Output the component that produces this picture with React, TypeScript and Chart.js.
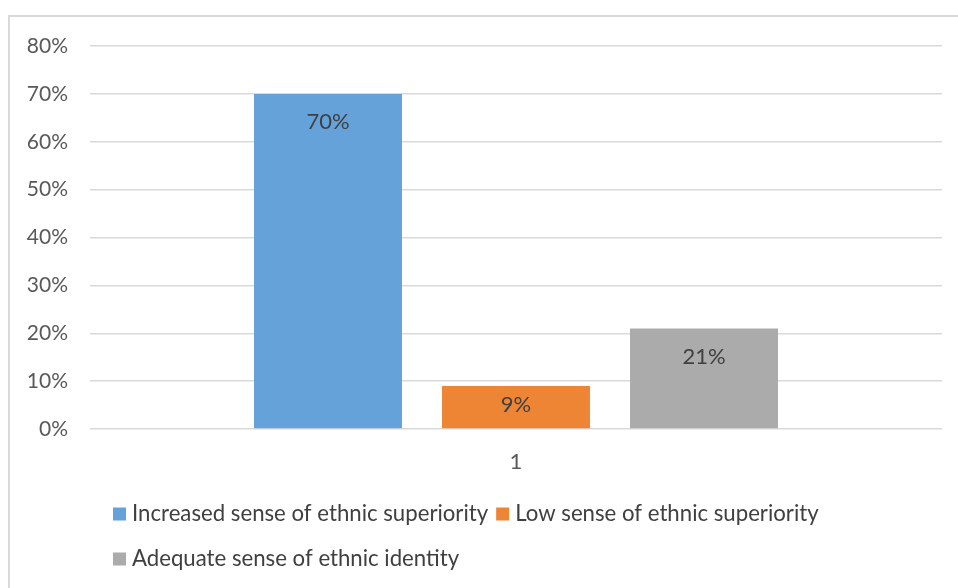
import React, { useEffect, useRef } from "react";
import { Chart, registerables } from "chart.js";

Chart.register(...registerables);

const categories = ["1"];
const seriesNames = [
  "Increased sense of ethnic superiority",
  "Low sense of ethnic superiority",
  "Adequate sense of ethnic identity",
];
const increasedValues = [70];
const lowValues = [9];
const adequateValues = [21];
const yMin = 0;
const yMax = 80;
const yStep = 10;
const seriesColors = ["#65a2d9", "#ee8535", "#ababab"];

const FONT = "Lato, 'Liberation Sans', sans-serif";
const TEXT = "#404040";
const TICK = "#595959";

const valueLabels = {
  id: "valueLabels",
  afterDatasetsDraw(chart: any) {
    const ctx = chart.ctx;
    ctx.save();
    ctx.font = `22px ${FONT}`;
    ctx.fillStyle = TEXT;
    ctx.textAlign = "center";
    ctx.textBaseline = "middle";
    chart.data.datasets.forEach((ds: any, i: number) => {
      const meta = chart.getDatasetMeta(i);
      meta.data.forEach((el: any, j: number) => {
        const top = el.y;
        const base = el.base;
        const y = Math.min(top + 28, (top + base) / 2 - 2);
        ctx.fillText(`${ds.data[j]}%`, el.x, y);
      });
    });
    ctx.restore();
  },
};

const bottomLegend = {
  id: "bottomLegend",
  afterDraw(chart: any) {
    const ctx = chart.ctx;
    const area = chart.chartArea;
    const x0 = area.left + 23;
    const rows = [[0, 1], [2]];
    const rowY = [area.bottom + 85, area.bottom + 130];
    ctx.save();
    ctx.font = `22.2px ${FONT}`;
    ctx.textBaseline = "middle";
    ctx.textAlign = "left";
    rows.forEach((row, r) => {
      let x = x0;
      row.forEach((i) => {
        const ds = chart.data.datasets[i];
        ctx.fillStyle = ds.backgroundColor;
        ctx.fillRect(x, rowY[r] - 6.5, 13, 13);
        x += 13 + 6;
        ctx.fillStyle = TEXT;
        ctx.fillText(ds.label, x, rowY[r]);
        x += ctx.measureText(ds.label).width + 8;
      });
    });
    ctx.restore();
  },
};

export default function App() {
  const ref = useRef<HTMLCanvasElement>(null);
  useEffect(() => {
    if (!ref.current) return;
    const chart = new Chart(ref.current, {
      type: "bar",
      data: {
        labels: categories,
        datasets: [
          { label: seriesNames[0], data: increasedValues, backgroundColor: seriesColors[0] },
          { label: seriesNames[1], data: lowValues, backgroundColor: seriesColors[1] },
          { label: seriesNames[2], data: adequateValues, backgroundColor: seriesColors[2] },
        ],
      },
      options: {
        animation: false,
        responsive: true,
        maintainAspectRatio: false,
        events: [],
        layout: { padding: { top: 29, right: 16, left: 0, bottom: 0 } },
        datasets: {
          bar: { categoryPercentage: 0.662, barPercentage: 0.787 },
        },
        plugins: {
          legend: { display: false },
          tooltip: { enabled: false },
        },
        scales: {
          x: {
            grid: { display: false },
            border: { display: false },
            ticks: { color: TICK, font: { family: FONT, size: 22 }, padding: 12 },
            afterFit: (s: any) => {
              s.height = 159;
            },
          },
          y: {
            min: yMin,
            max: yMax,
            border: { display: false },
            grid: { color: "#d9d9d9", lineWidth: 1.5, drawTicks: false },
            ticks: {
              stepSize: yStep,
              color: TICK,
              font: { family: FONT, size: 21 },
              padding: 22,
              callback: (v: any) => `${v}%`,
            },
            afterFit: (s: any) => {
              s.width = 80;
              s.paddingTop = 0;
              s.paddingBottom = 0;
            },
          },
        },
      },
      plugins: [valueLabels, bottomLegend],
    });
    return () => chart.destroy();
  }, []);

  return (
    <div
      style={{
        position: "fixed",
        left: 8,
        top: 15,
        width: 980,
        height: 600,
        border: "2px solid #d9d9d9",
        boxSizing: "border-box",
        background: "#fff",
      }}
    >
      <div style={{ position: "absolute", left: 0, top: 0, width: 948, height: 571 }}>
        <canvas ref={ref} />
      </div>
    </div>
  );
}
